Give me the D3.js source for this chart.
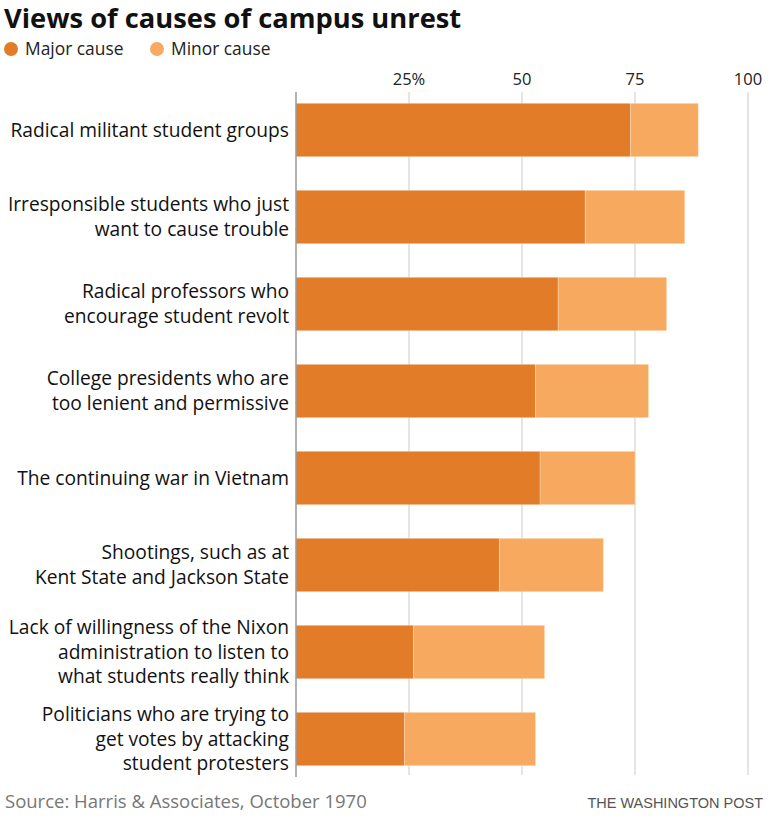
<!DOCTYPE html>
<html>
<head>
<meta charset="utf-8">
<script src="https://cdn.jsdelivr.net/npm/d3@7"></script>
<style>
  body { margin: 0; background: #fff; }
  svg { display: block; }
  text { font-family: "Open Sans", "Liberation Sans", Arial, sans-serif; }
</style>
</head>
<body>
<svg id="chart" width="768" height="820"></svg>
<script>
const categories = [
  ["Radical militant student groups"],
  ["Irresponsible students who just", "want to cause trouble"],
  ["Radical professors who", "encourage student revolt"],
  ["College presidents who are", "too lenient and permissive"],
  ["The continuing war in Vietnam"],
  ["Shootings, such as at", "Kent State and Jackson State"],
  ["Lack of willingness of the Nixon", "administration to listen to", "what students really think"],
  ["Politicians who are trying to", "get votes by attacking", "student protesters"]
];
const majorValues = [74, 64, 58, 53, 54, 45, 26, 24];
const totalValues = [89, 86, 82, 78, 75, 68, 55, 53];
const minorValues = totalValues.map((t, i) => t - majorValues[i]);
const tickValues = [25, 50, 75, 100];
const tickLabels = ["25%", "50", "75", "100"];
const seriesNames = ["Major cause", "Minor cause"];
const colors = ["#e27c28", "#f7aa5f"];

const svg = d3.select("#chart");
const x = d3.scaleLinear().domain([0, 100]).range([296, 748]);
const y = d3.scaleBand().domain(d3.range(categories.length))
  .range([86.5, 782.5]).paddingInner(0.387).paddingOuter(0.1935);

// Title
svg.append("text").attr("x", 4).attr("y", 28)
  .attr("font-size", 27.3).attr("font-weight", "bold").attr("fill", "#111")
  .text("Views of causes of campus unrest");

// Legend
const legendX = [11, 157];
seriesNames.forEach((name, i) => {
  svg.append("circle").attr("cx", legendX[i]).attr("cy", 49).attr("r", 7).attr("fill", colors[i]);
  svg.append("text").attr("x", legendX[i] + 14).attr("y", 55)
    .attr("font-size", 17.4).attr("fill", "#222").text(name);
});

// Gridlines
svg.append("g").selectAll("line").data(tickValues).join("line")
  .attr("x1", d => x(d)).attr("x2", d => x(d))
  .attr("y1", 92).attr("y2", 775)
  .attr("stroke", "#dcdcdc").attr("stroke-width", 1.5);

// Tick labels
svg.append("g").selectAll("text").data(tickValues).join("text")
  .attr("x", d => x(d)).attr("y", 85).attr("text-anchor", "middle")
  .attr("font-size", 16.5).attr("fill", "#222")
  .text((d, i) => tickLabels[i]);

// Bars
const stackData = categories.map((c, i) => ({ i, major: majorValues[i], minor: minorValues[i] }));
const stack = d3.stack().keys(["major", "minor"])(stackData);
svg.append("g").selectAll("g").data(stack).join("g")
  .attr("fill", (d, k) => colors[k])
  .selectAll("rect").data(d => d).join("rect")
  .attr("x", d => x(d[0]))
  .attr("width", d => x(d[1]) - x(d[0]))
  .attr("y", d => y(d.data.i))
  .attr("height", y.bandwidth())
  .attr("stroke", "rgba(255,255,255,0.25)").attr("stroke-width", 1);

// Zero axis line
svg.append("line").attr("x1", x(0)).attr("x2", x(0)).attr("y1", 92).attr("y2", 777)
  .attr("stroke", "#999").attr("stroke-width", 1.5);

// Category labels
const lineH = 24.5;
const labels = svg.append("g").selectAll("text").data(categories).join("text")
  .attr("text-anchor", "end").attr("font-size", 19.2).attr("fill", "#111");
labels.each(function(lines, i) {
  const cy = y(i) + y.bandwidth() / 2;
  const n = lines.length;
  d3.select(this).selectAll("tspan").data(lines).join("tspan")
    .attr("x", 289)
    .attr("y", (d, j) => cy + (j - (n - 1) / 2) * lineH + 6.5)
    .text(d => d);
});

// Footer
svg.append("text").attr("x", 5).attr("y", 808).attr("font-size", 18.5).attr("fill", "#777")
  .text("Source: Harris & Associates, October 1970");
svg.append("text").attr("x", 763).attr("y", 808).attr("text-anchor", "end")
  .attr("font-size", 14.5).attr("fill", "#555")
  .style("font-family", "'Liberation Sans', Arial, sans-serif")
  .text("THE WASHINGTON POST");
</script>
</body>
</html>
